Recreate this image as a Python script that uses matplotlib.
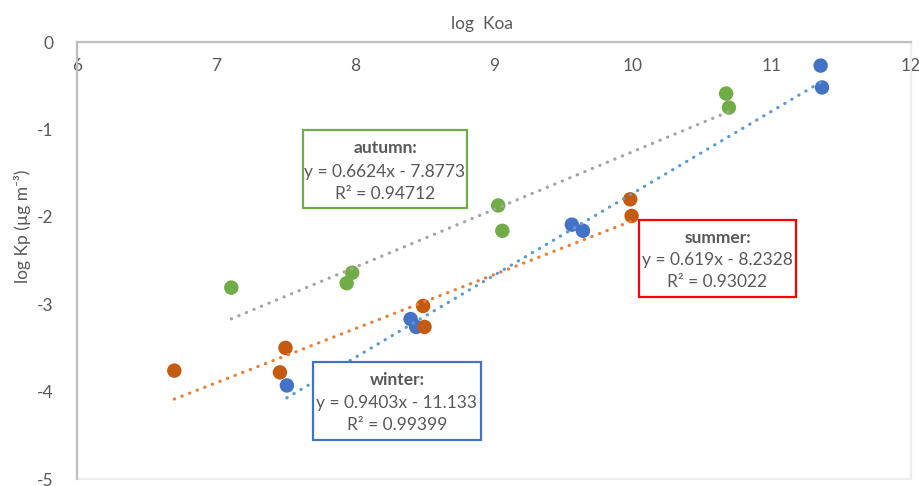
import matplotlib
matplotlib.use("Agg")
import matplotlib.pyplot as plt
from matplotlib.patches import Rectangle
import numpy as np

plt.rcParams['font.family'] = ['Lato', 'DejaVu Sans']

# ---- data ----
autumn_x = [7.11, 7.94, 7.98, 9.03, 9.06, 10.67, 10.69]
autumn_y = [-2.81, -2.76, -2.64, -1.87, -2.16, -0.59, -0.75]
winter_x = [7.51, 8.40, 8.44, 9.56, 9.64, 11.35, 11.36]
winter_y = [-3.93, -3.17, -3.26, -2.09, -2.16, -0.27, -0.52]
summer_x = [6.70, 7.46, 7.50, 8.49, 8.50, 9.98, 9.99]
summer_y = [-3.76, -3.78, -3.50, -3.02, -3.26, -1.80, -1.99]

# trendline coefficients (slope, intercept) as reported
autumn_fit = (0.6624, -7.8773)
summer_fit = (0.619, -8.2328)
winter_fit = (0.9403, -11.133)

labels = {
    'autumn': ("autumn:", "y = 0.6624x - 7.8773", "R² = 0.94712"),
    'summer': ("summer:", "y = 0.619x - 8.2328", "R² = 0.93022"),
    'winter': ("winter:", "y = 0.9403x - 11.133", "R² = 0.99399"),
}

x_ticks = [6, 7, 8, 9, 10, 11, 12]
y_ticks = [0, -1, -2, -3, -4, -5]

W, H = 920, 486
fig = plt.figure(figsize=(W / 100, H / 100), dpi=100)
L, R, T, B = 77, 911, 42, 479
ax = fig.add_axes([L / W, 1 - B / H, (R - L) / W, (B - T) / H])

txt = '#595959'
c_green, c_blue, c_orange = '#70AD47', '#4472C4', '#C55A11'
t_gray, t_blue, t_orange = '#A5A5A5', '#5B9BD5', '#ED7D31'

ms = 108
ax.scatter(autumn_x, autumn_y, s=ms, color=c_green, edgecolors='none', zorder=3)
ax.scatter(winter_x, winter_y, s=ms, color=c_blue, edgecolors='none', zorder=3)
ax.scatter(summer_x, summer_y, s=ms, color=c_orange, edgecolors='none', zorder=3)

def trend(xs, fit, color):
    xx = np.array([min(xs), max(xs)])
    yy = fit[0] * xx + fit[1]
    ax.plot(xx, yy, color=color, lw=2.3, linestyle=(0, (0.1, 2.45)),
            dash_capstyle='round', zorder=4)

trend(autumn_x, autumn_fit, t_gray)
trend(summer_x, summer_fit, t_orange)
trend(winter_x, winter_fit, t_blue)

ax.set_xlim(6, 12)
ax.set_ylim(-5, 0)
ax.set_xticks(x_ticks)
ax.set_yticks(y_ticks)
ax.set_xticklabels([str(v) for v in x_ticks])
ax.set_yticklabels([str(v) for v in y_ticks])

# x axis crosses at y = 0 (top of plot), labels hang below it
ax.spines['bottom'].set_position(('data', 0))
ax.spines['top'].set_visible(False)
ax.tick_params(axis='x', bottom=False, top=False, labelbottom=True, labeltop=False,
               pad=11.5, labelsize=12.5, labelcolor=txt, length=0)
ax.tick_params(axis='y', left=False, length=0, pad=17, labelsize=12.5, labelcolor=txt)

for s in ['left', 'bottom']:
    ax.spines[s].set_color('#BFBFBF')
    ax.spines[s].set_linewidth(1.6)
ax.spines['right'].set_color('#EEEEEE')
ax.spines['right'].set_linewidth(1.6)
# light plot-area border at the bottom
ax.add_patch(Rectangle((0, 0), 1, 1, transform=ax.transAxes, fill=False,
                       edgecolor='#EEEEEE', lw=1.6, zorder=0.5, clip_on=False))

fig.text(482 / W, 1 - 24 / H, "log  Koa", ha='center', va='center', fontsize=12.5, color=txt)
fig.text(23 / W, 1 - 226 / H, "log Kp (µg m⁻³)", ha='center', va='center',
         rotation=90, fontsize=12.5, color=txt)

def box(x0, y0, x1, y1, color, key, ys):
    r = Rectangle((x0 / W, 1 - y1 / H), (x1 - x0) / W, (y1 - y0) / H,
                  transform=fig.transFigure, fill=True, facecolor='white',
                  edgecolor=color, lw=1.6, zorder=5)
    fig.patches.append(r)
    cx = (x0 + x1) / 2 / W
    t1, t2, t3 = labels[key]
    fig.text(cx, 1 - ys[0] / H, t1, ha='center', va='center', fontsize=12.5,
             fontweight='bold', color=txt, zorder=6)
    fig.text(cx, 1 - ys[1] / H, t2, ha='center', va='center', fontsize=12.5,
             color=txt, zorder=6)
    fig.text(cx, 1 - ys[2] / H, t3, ha='center', va='center', fontsize=12.5,
             color=txt, zorder=6)

box(303, 130, 467, 208, c_green, 'autumn', (148, 172, 194))
box(639, 220, 796, 297, '#FF0000', 'summer', (238, 260, 282))
box(313, 362, 481, 440, c_blue, 'winter', (380, 403, 425))

fig.savefig('out.png', dpi=100)
